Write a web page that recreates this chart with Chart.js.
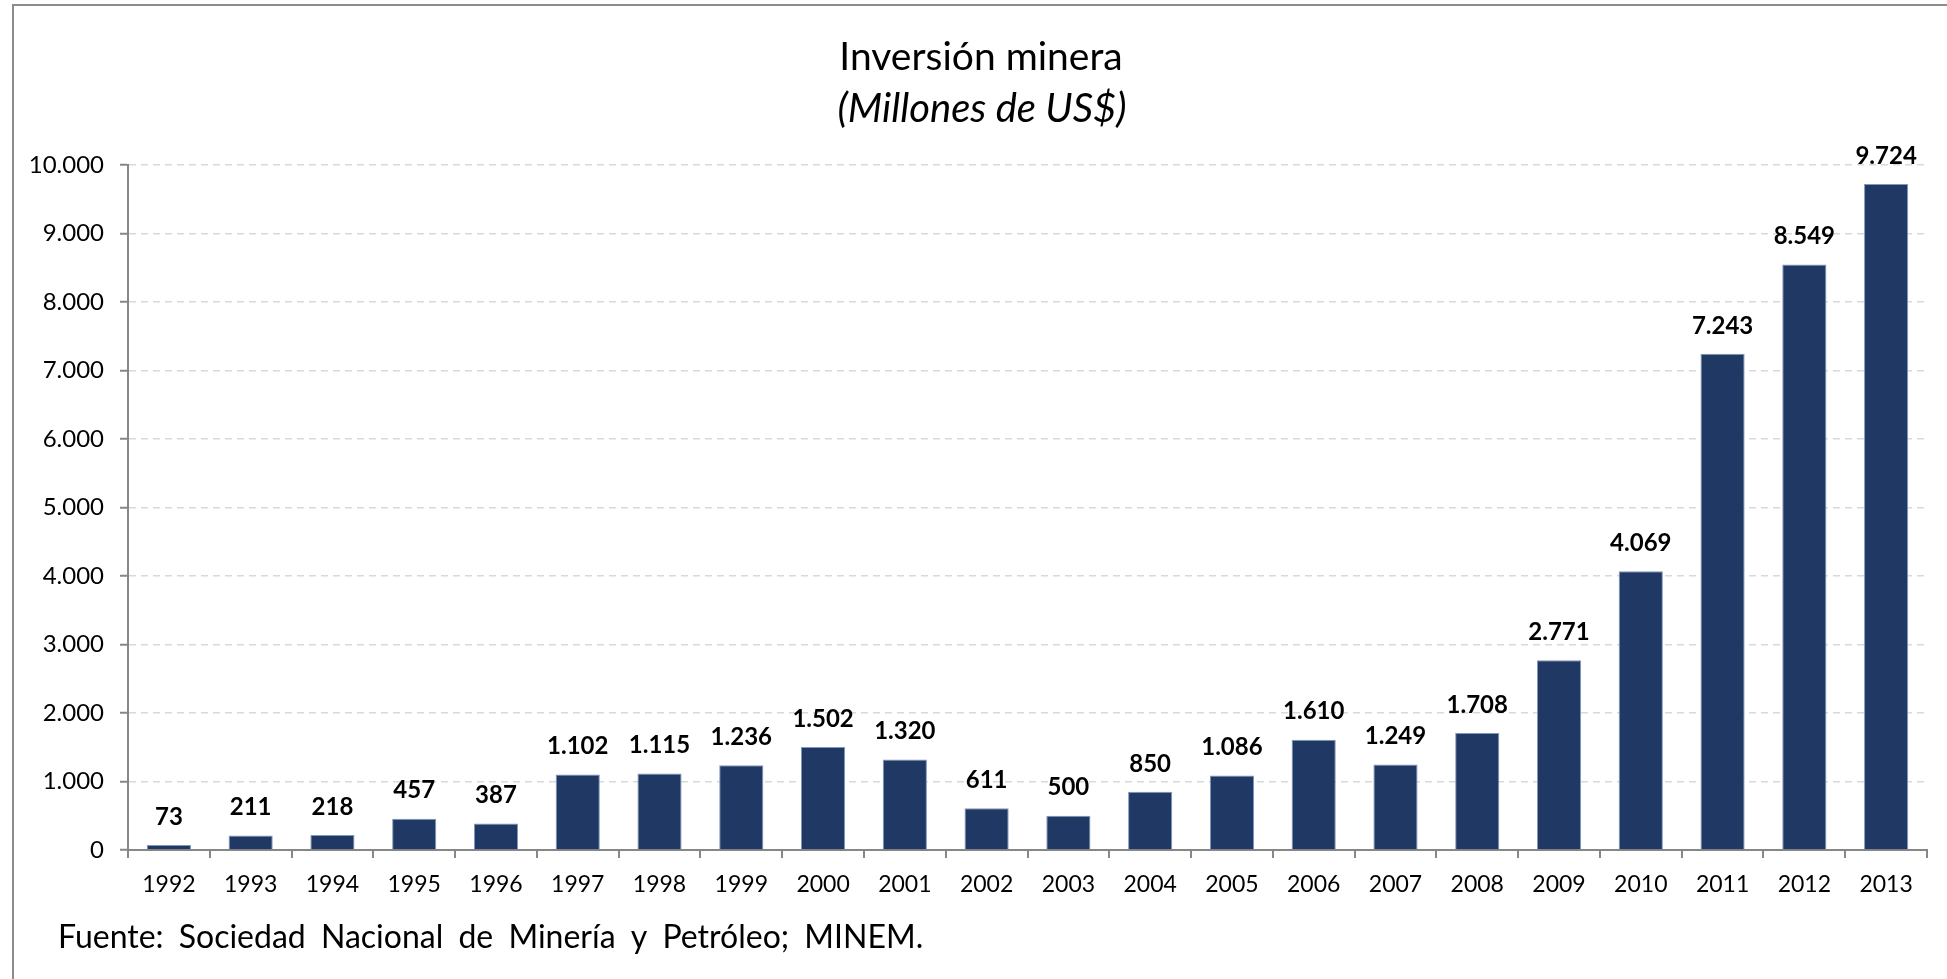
<!DOCTYPE html>
<html>
<head>
<meta charset="utf-8">
<script src="https://cdn.jsdelivr.net/npm/chart.js@4.4.1/dist/chart.umd.min.js"></script>
<style>
  html, body { margin: 0; padding: 0; background: #fff; overflow: hidden; }
  #wrap { position: relative; width: 1947px; height: 979px; }
</style>
</head>
<body>
<div id="wrap"><canvas id="chartInversion"></canvas></div>
<script>
// datos del gráfico
const anios = ['1992', '1993', '1994', '1995', '1996', '1997', '1998', '1999', '2000', '2001', '2002',
               '2003', '2004', '2005', '2006', '2007', '2008', '2009', '2010', '2011', '2012', '2013'];
const inversion = [73, 211, 218, 457, 387, 1102, 1115, 1236, 1502, 1320, 611,
                   500, 850, 1086, 1610, 1249, 1708, 2771, 4069, 7243, 8549, 9724];
const tituloTexto = 'Inversión minera';
const subtituloTexto = '(Millones de US$)';
const fuenteTexto = 'Fuente: Sociedad Nacional de Minería y Petróleo; MINEM.';

const FUENTE = 'Lato, "Open Sans", sans-serif';

// formato con punto de miles
function miles(v) {
    return Math.round(v).toString().replace(/\B(?=(\d{3})+(?!\d))/g, '.');
}

// marco, títulos y nota al pie
const textosPlugin = {
    id: 'textos',
    beforeDraw(chart) {
        const ctx = chart.ctx;
        ctx.save();
        ctx.strokeStyle = '#8c8c8c';
        ctx.lineWidth = 2;
        ctx.beginPath();
        ctx.moveTo(13, chart.height);
        ctx.lineTo(13, 5);
        ctx.lineTo(chart.width, 5);
        ctx.stroke();
        ctx.restore();
    },
    afterDraw(chart) {
        const ctx = chart.ctx;
        ctx.save();
        ctx.fillStyle = '#000';
        ctx.textAlign = 'center';
        ctx.textBaseline = 'middle';
        ctx.font = '39px ' + FUENTE;
        ctx.fillText(tituloTexto, 981, 57);
        ctx.font = 'italic 40px ' + FUENTE;
        ctx.fillText(subtituloTexto, 982, 109);
        ctx.textAlign = 'left';
        ctx.font = '32px ' + FUENTE;
        ctx.wordSpacing = '7px';
        ctx.fillText(fuenteTexto, 58, 938);
        ctx.restore();
    }
};

// etiquetas de valor encima de cada barra
const etiquetasPlugin = {
    id: 'etiquetas',
    afterDatasetsDraw(chart) {
        const ctx = chart.ctx;
        const meta = chart.getDatasetMeta(0);
        ctx.save();
        ctx.fillStyle = '#000';
        ctx.font = 'bold 24px ' + FUENTE;
        ctx.textAlign = 'center';
        ctx.textBaseline = 'middle';
        meta.data.forEach((bar, i) => {
            ctx.fillText(miles(inversion[i]), bar.x, bar.y - 28);
        });
        ctx.restore();
    }
};

const ctx = document.getElementById('chartInversion').getContext('2d');
new Chart(ctx, {
    type: 'bar',
    data: {
        labels: anios,
        datasets: [{
            label: 'Inversión minera',
            data: inversion,
            backgroundColor: '#203864',
            borderColor: '#8196bb',
            borderWidth: 1,
            barPercentage: 0.54,
            categoryPercentage: 1
        }]
    },
    options: {
        responsive: true,
        maintainAspectRatio: false,
        animation: false,
        layout: {
            padding: { left: 0, right: 20, top: 165, bottom: 69 }
        },
        plugins: {
            legend: { display: false },
            tooltip: { enabled: false }
        },
        scales: {
            x: {
                afterFit: (scale) => { scale.height = 60; },
                grid: {
                    offset: true,
                    drawOnChartArea: false,
                    color: '#878787',
                    tickLength: 8,
                    lineWidth: 2
                },
                border: { color: '#878787', width: 2 },
                ticks: {
                    color: '#000',
                    padding: 13,
                    maxRotation: 0,
                    font: { family: FUENTE, size: 23 }
                }
            },
            y: {
                min: 0,
                max: 10000,
                afterFit: (scale) => { scale.width = 128; },
                grid: {
                    color: '#d9d9d9',
                    lineWidth: 1.5,
                    tickColor: '#878787',
                    tickLength: 8,
                    tickWidth: 2,
                    tickBorderDash: []
                },
                border: { color: '#878787', width: 2, dash: [7, 5] },
                ticks: {
                    stepSize: 1000,
                    color: '#000',
                    padding: 16,
                    font: { family: FUENTE, size: 24 },
                    callback: (v) => miles(v)
                }
            }
        }
    },
    plugins: [textosPlugin, etiquetasPlugin]
});
</script>
</body>
</html>
